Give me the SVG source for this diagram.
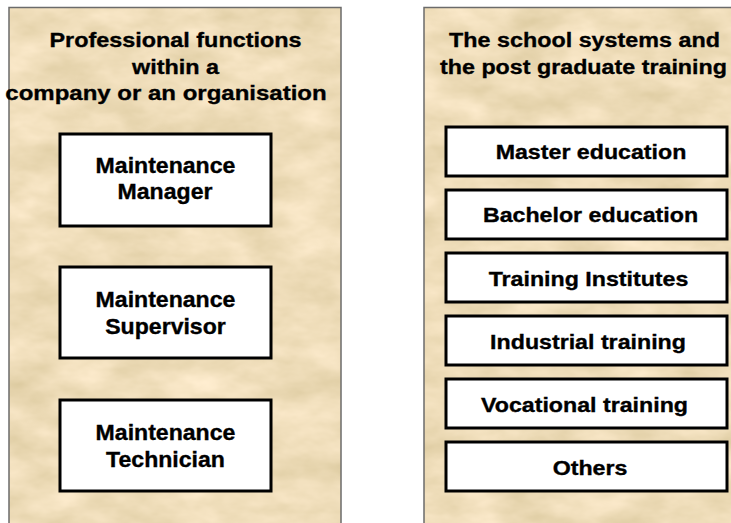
<svg xmlns="http://www.w3.org/2000/svg" width="731" height="523" viewBox="0 0 731 523">
<style>
  .panel { stroke: #6b6b6b; stroke-width: 1.5; }
  .box { fill: #ffffff; stroke: #000000; stroke-width: 3; }
  .t { font-family: "Liberation Sans", Arial, sans-serif; font-weight: bold; fill: #000000; stroke: #000000; stroke-width: 0.35; text-anchor: middle; }
  .h { font-size: 21px; }
  .b { font-size: 21.5px; }
  .r { font-size: 20.5px; }
</style>
<defs>
  <filter id="paper" x="0" y="0" width="1" height="1" color-interpolation-filters="sRGB">
    <feTurbulence type="fractalNoise" baseFrequency="0.018 0.035" numOctaves="4" seed="7" result="n"/>
    <feColorMatrix in="n" type="matrix" values="0.16 0 0 0 0.855  0.16 0 0 0 0.785  0.22 0 0 0 0.615  0 0 0 0 1" result="c"/>
    <feComposite in="c" in2="SourceGraphic" operator="in"/>
  </filter>
</defs>
<rect x="0" y="0" width="731" height="523" fill="#ffffff"/>

<g id="panel-left">
  <rect x="9" y="7.5" width="332" height="530" fill="#eedcb3" filter="url(#paper)"/>
  <rect class="panel" x="9" y="7.5" width="332" height="530" fill="none"/>
  <text class="t h" transform="translate(175.5,46.7) scale(1.114,1)">Professional functions</text>
  <text class="t h" transform="translate(175.5,73.5) scale(1.114,1)">within a</text>
  <text class="t h" transform="translate(166,100.3) scale(1.143,1)">company or an organisation</text>
</g>

<g id="panel-right">
  <rect x="424" y="7.5" width="330" height="530" fill="#eedcb3" filter="url(#paper)"/>
  <rect class="panel" x="424" y="7.5" width="330" height="530" fill="none"/>
  <text class="t h" transform="translate(584.5,46.7) scale(1.111,1)">The school systems and</text>
  <text class="t h" transform="translate(583.5,73.5) scale(1.108,1)">the post graduate training</text>
</g>

<g id="node-manager">
  <rect class="box" x="60" y="134" width="211" height="92"/>
  <text class="t b" transform="translate(165.5,172.7) scale(1.074,1)">Maintenance</text>
  <text class="t b" transform="translate(165,199.3) scale(1.074,1)">Manager</text>
</g>
<g id="node-supervisor">
  <rect class="box" x="60" y="267" width="211" height="91"/>
  <text class="t b" transform="translate(165.5,306.5) scale(1.074,1)">Maintenance</text>
  <text class="t b" transform="translate(165.5,333.5) scale(1.074,1)">Supervisor</text>
</g>
<g id="node-technician">
  <rect class="box" x="60" y="400" width="211" height="91"/>
  <text class="t b" transform="translate(165.5,440) scale(1.074,1)">Maintenance</text>
  <text class="t b" transform="translate(165.5,467) scale(1.074,1)">Technician</text>
</g>

<g id="node-master">
  <rect class="box" x="446" y="127" width="281" height="49"/>
  <text class="t r" transform="translate(591,159.3) scale(1.132,1)">Master education</text>
</g>
<g id="node-bachelor">
  <rect class="box" x="446" y="190" width="281" height="49"/>
  <text class="t r" transform="translate(590.5,222.3) scale(1.132,1)">Bachelor education</text>
</g>
<g id="node-institutes">
  <rect class="box" x="446" y="253" width="281" height="49"/>
  <text class="t r" transform="translate(588.5,285.5) scale(1.132,1)">Training Institutes</text>
</g>
<g id="node-industrial">
  <rect class="box" x="446" y="316" width="281" height="49"/>
  <text class="t r" transform="translate(588,348.7) scale(1.132,1)">Industrial training</text>
</g>
<g id="node-vocational">
  <rect class="box" x="446" y="379" width="281" height="49"/>
  <text class="t r" transform="translate(584.5,412) scale(1.132,1)">Vocational training</text>
</g>
<g id="node-others">
  <rect class="box" x="446" y="442" width="281" height="49"/>
  <text class="t r" transform="translate(590,474.8) scale(1.132,1)">Others</text>
</g>

<g id="connectors"></g>
</svg>
